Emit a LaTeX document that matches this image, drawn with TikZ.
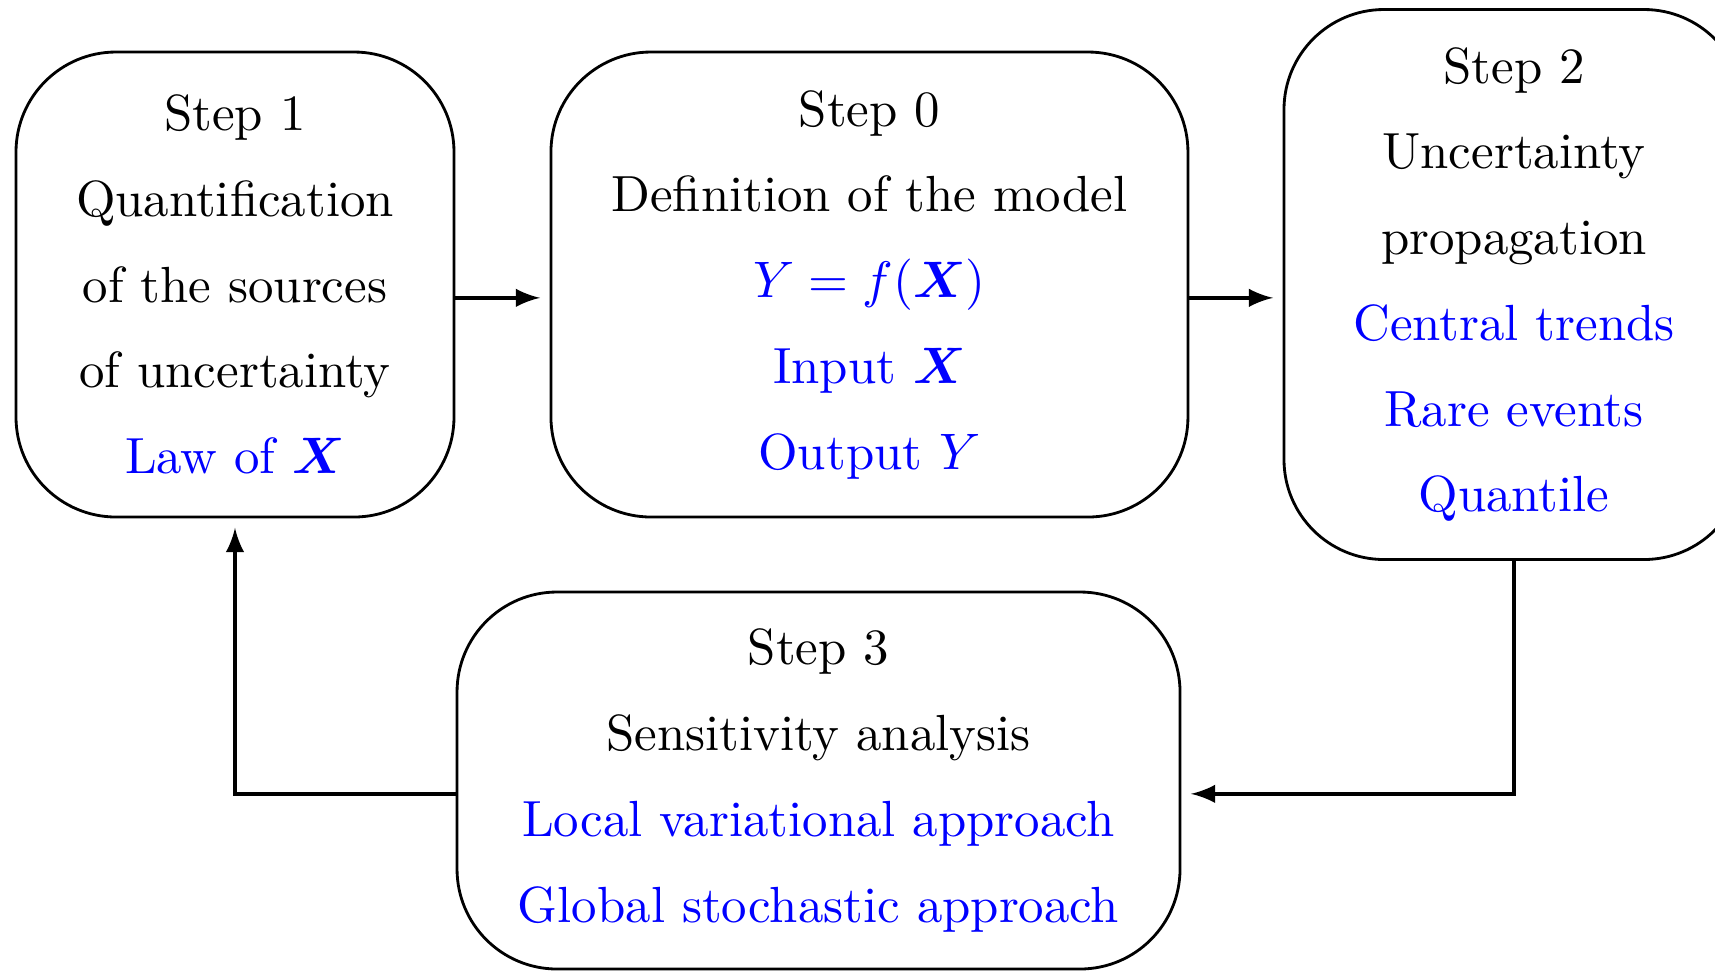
\documentclass[tikz,border=0pt]{standalone}
\usepackage{amsmath, amssymb}
\usepackage{bm}
\usepackage{xcolor}
\usetikzlibrary{arrows, arrows.meta, positioning}
\tikzset{
  >=latex,  % punte LaTeX
  % Riquadri dei passi
  stepbox/.style={draw,semithick,rounded corners=0.75cm,align=center,
    font=\fontsize{10.85}{18.3}\selectfont},
  % Connessioni
  connect arrow/.style={->,thick,shorten >=2pt}
}

\begin{document}
\begin{tikzpicture}
    \clip (0,0) rectangle (12.8625,-7.2825);
    % step 1
    \node[stepbox,minimum width=3.285cm,minimum height=3.4875cm] (step1) at (1.7625,-2.134)
      {Step 1\\Quantification\\of the sources\\of uncertainty\\\textcolor{blue}{Law of $\bm{X}$}};
    % step 0
    \node[stepbox,minimum width=4.7775cm,minimum height=3.4875cm] (step0) at (6.521,-2.134)
      {Step 0\\Definition of the model\\\textcolor{blue}{$Y=f(\bm{X})$}\\
       \textcolor{blue}{Input $\bm{X}$}\\\textcolor{blue}{Output $Y$}};
    % step 2
    \node[stepbox,minimum width=3.45cm,minimum height=4.125cm] (step2) at (11.355,-2.134)
      {Step 2\\Uncertainty\\propagation\\\textcolor{blue}{Central trends}\\
       \textcolor{blue}{Rare events}\\\textcolor{blue}{Quantile}};
    % step 3
    \node[stepbox,minimum width=5.4225cm,minimum height=2.8275cm] (step3) at (6.139,-5.854)
      {Step 3\\Sensitivity analysis\\\textcolor{blue}{Local variational approach}\\
       \textcolor{blue}{Global stochastic approach}};
    % frecce
    \draw[connect arrow] ([yshift=-0.1cm]step1.east) -- ([yshift=-0.1cm]step0.west);
    \draw[connect arrow] ([yshift=-0.1cm]step0.east) -- ([yshift=-0.1cm]step2.west);
    \draw[connect arrow] (step2.south) |- ([yshift=-0.1cm]step3.east);
    \draw[connect arrow] ([yshift=-0.1cm]step3.west) -| (step1.south);
  \end{tikzpicture}
\end{document}
